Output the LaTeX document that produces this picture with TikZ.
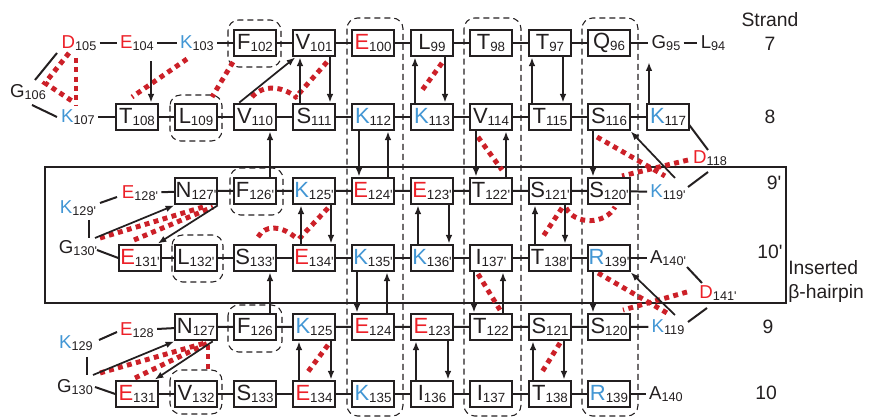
\documentclass[tikz,border=0pt]{standalone}
\usepackage{fontspec}
\setmainfont{Liberation Sans}
\usetikzlibrary{arrows.meta,calc,backgrounds}
\definecolor{tx}{RGB}{35,31,32}
\definecolor{rd}{RGB}{236,32,40}
\definecolor{bl}{RGB}{66,150,212}
\definecolor{sbc}{RGB}{204,32,40}
\newcommand\rb[3]{\textcolor{#1}{\fontsize{16.5}{16.5}\selectfont #2}\raisebox{-1.5pt}{\fontsize{10}{10}\selectfont #3}}
\newcommand\rl[3]{\textcolor{#1}{\fontsize{14}{14}\selectfont #2}\raisebox{-2pt}{\fontsize{9.5}{9.5}\selectfont #3}}
\newcommand\pr{\textquotesingle}
\newcommand\hdn[3]{\draw[hb] ($(#1.south)+(#3,0)$) -- ($(#2.north)+(#3,0)$);}
\newcommand\hup[3]{\draw[hb] ($(#1.north)+(#3,0)$) -- ($(#2.south)+(#3,0)$);}
\tikzset{
  box/.style={draw=tx, line width=1.6pt, fill=white, minimum width=31pt, minimum height=20pt, inner sep=0pt, text=tx},
  lab/.style={inner sep=0pt, outer sep=2.5pt, text=tx},
  slab/.style={inner sep=0pt, text=tx, font=\fontsize{14.5}{14.5}\selectfont},
  bb/.style={draw=tx, line width=1.5pt},
  hb/.style={draw=tx, line width=1.3pt, -{Latex[length=6.5pt,width=5pt]}},
  sb/.style={draw=sbc, line width=3.7pt, dash pattern=on 3.7pt off 3.3pt},
  dbox/.style={draw=tx, line width=0.8pt, dash pattern=on 4.5pt off 3pt, rounded corners=8pt},
}
\begin{document}
\begin{tikzpicture}[x=0.75pt,y=-0.75pt]
\useasboundingbox (0,0) rectangle (869,417);
% ---------- row 7
\node[lab] (D105) at (79,43) {\rl{rd}{D}{105}};
\node[lab] (E104) at (137,43) {\rl{rd}{E}{104}};
\node[lab] (K103) at (197,43) {\rl{bl}{K}{103}};
\node[box] (F102) at (255,43) {\rb{tx}{F}{102}};
\node[box] (V101) at (314,43) {\rb{tx}{V}{101}};
\node[box] (E100) at (373,43) {\rb{rd}{E}{100}};
\node[box] (L99) at (432,43) {\rb{tx}{L}{99}};
\node[box] (T98) at (491,43) {\rb{tx}{T}{98}};
\node[box] (T97) at (550,43) {\rb{tx}{T}{97}};
\node[box] (Q96) at (609,43) {\rb{tx}{Q}{96}};
\node[lab] (G95) at (666,43) {\rl{tx}{G}{95}};
\node[lab] (L94) at (713,43) {\rl{tx}{L}{94}};
\node[lab] (G106) at (28,92) {\rl{tx}{G}{106}};
% ---------- row 8
\node[lab] (K107) at (78,117) {\rl{bl}{K}{107}};
\node[box] (T108) at (137,117) {\rb{tx}{T}{108}};
\node[box] (L109) at (196,117) {\rb{tx}{L}{109}};
\node[box] (V110) at (255,117) {\rb{tx}{V}{110}};
\node[box] (S111) at (314,117) {\rb{tx}{S}{111}};
\node[box] (K112) at (373,117) {\rb{bl}{K}{112}};
\node[box] (K113) at (432,117) {\rb{bl}{K}{113}};
\node[box] (V114) at (491,117) {\rb{tx}{V}{114}};
\node[box] (T115) at (550,117) {\rb{tx}{T}{115}};
\node[box] (S116) at (609,117) {\rb{tx}{S}{116}};
\node[box] (K117) at (668,117) {\rb{bl}{K}{117}};
\node[lab] (D118) at (710,158) {\rl{rd}{D}{118}};
% ---------- row 9'
\node[lab] (K119p) at (668,192) {\rl{bl}{K}{119\pr}};
\node[box] (S120p) at (609,191) {\rb{tx}{S}{120\pr}};
\node[box] (S121p) at (550,191) {\rb{tx}{S}{121\pr}};
\node[box] (T122p) at (491,191) {\rb{tx}{T}{122\pr}};
\node[box] (E123p) at (432,191) {\rb{rd}{E}{123\pr}};
\node[box] (E124p) at (373,191) {\rb{rd}{E}{124\pr}};
\node[box] (K125p) at (314,191) {\rb{bl}{K}{125\pr}};
\node[box] (F126p) at (255,191) {\rb{tx}{F}{126\pr}};
\node[box] (N127p) at (196,191) {\rb{tx}{N}{127\pr}};
\node[lab] (E128p) at (140,193) {\rl{rd}{E}{128\pr}};
\node[lab] (K129p) at (78,208) {\rl{bl}{K}{129\pr}};
\node[lab] (G130p) at (78,248) {\rl{tx}{G}{130\pr}};
% ---------- row 10'
\node[box] (E131p) at (140,258) {\rb{rd}{E}{131\pr}};
\node[box] (L132p) at (196,258) {\rb{tx}{L}{132\pr}};
\node[box] (S133p) at (255,258) {\rb{tx}{S}{133\pr}};
\node[box] (E134p) at (314,258) {\rb{rd}{E}{134\pr}};
\node[box] (K135p) at (373,258) {\rb{bl}{K}{135\pr}};
\node[box] (K136p) at (432,258) {\rb{bl}{K}{136\pr}};
\node[box] (I137p) at (491,258) {\rb{tx}{I}{137\pr}};
\node[box] (T138p) at (550,258) {\rb{tx}{T}{138\pr}};
\node[box] (R139p) at (609,258) {\rb{bl}{R}{139\pr}};
\node[lab] (A140p) at (668,258) {\rl{tx}{A}{140\pr}};
\node[lab] (D141p) at (718,293) {\rl{rd}{D}{141\pr}};
% ---------- row 9
\node[lab] (K119) at (668,327) {\rl{bl}{K}{119}};
\node[box] (S120) at (609,327) {\rb{tx}{S}{120}};
\node[box] (S121) at (550,327) {\rb{tx}{S}{121}};
\node[box] (T122) at (491,327) {\rb{tx}{T}{122}};
\node[box] (E123) at (432,327) {\rb{rd}{E}{123}};
\node[box] (E124) at (373,327) {\rb{rd}{E}{124}};
\node[box] (K125) at (314,327) {\rb{bl}{K}{125}};
\node[box] (F126) at (255,327) {\rb{tx}{F}{126}};
\node[box] (N127) at (196,327) {\rb{tx}{N}{127}};
\node[lab] (E128) at (137,330) {\rl{rd}{E}{128}};
\node[lab] (K129) at (76,343) {\rl{bl}{K}{129}};
\node[lab] (G130) at (75,387) {\rl{tx}{G}{130}};
% ---------- row 10
\node[box] (E131) at (137,394) {\rb{rd}{E}{131}};
\node[box] (V132) at (196,394) {\rb{tx}{V}{132}};
\node[box] (S133) at (255,394) {\rb{tx}{S}{133}};
\node[box] (E134) at (314,394) {\rb{rd}{E}{134}};
\node[box] (K135) at (373,394) {\rb{bl}{K}{135}};
\node[box] (I136) at (432,394) {\rb{tx}{I}{136}};
\node[box] (I137) at (491,394) {\rb{tx}{I}{137}};
\node[box] (T138) at (550,394) {\rb{tx}{T}{138}};
\node[box] (R139) at (609,394) {\rb{bl}{R}{139}};
\node[lab] (A140) at (666,394) {\rl{tx}{A}{140}};
% ---------- strand labels
\node[slab] (st) at (770,20) {Strand};
\node[slab] (s7) at (770,44) {7};
\node[slab] (s8) at (770,117) {8};
\node[slab] (s9p) at (774,183) {9\pr};
\node[slab] (s10p) at (770,252) {10\pr};
\node[slab] (s9) at (768,327) {9};
\node[slab] (s10) at (766,393) {10};
\node[slab, anchor=base west] (ins) at (788,275) {Inserted};
\node[slab, anchor=base west] (hp) at (788,299) {β-hairpin};

\begin{scope}[on background layer]
% frame of the inserted hairpin
\draw[draw=tx, line width=0.8pt] (45,167) rectangle (786,303);
% dashed groups
\draw[dbox] ($(F102)+(-27,-23)$) rectangle ($(F102)+(26,24)$);
\draw[dbox] ($(L109)+(-26,-22)$) rectangle ($(L109)+(26,24)$);
\draw[dbox] ($(F126p)+(-25,-23)$) rectangle ($(F126p)+(28,24)$);
\draw[dbox] ($(L132p)+(-24,-23)$) rectangle ($(L132p)+(27,24)$);
\draw[dbox] ($(F126)+(-27,-22)$) rectangle ($(F126)+(27,25)$);
\draw[dbox] ($(V132)+(-26,-24)$) rectangle ($(V132)+(26,20)$);
\draw[dbox] (347,18) rectangle (403,416);
\draw[dbox] (464,18) rectangle (521,416);
\draw[dbox] (582,18) rectangle (638,416);
% salt bridges
\draw[sb] ($(D105)+(-3,15)$) -- ($(K107)+(-2,-12)$);
\draw[sb] ($(D105)+(-10,10)$) -- ($(G106)+(17,-9)$) -- ($(K107)+(-3,-14)$);
\draw[sb] ($(K103)+(-10,16)$) -- ($(T108)+(-5,-20)$);
\draw[sb] ($(F102)+(-22,19)$) -- ($(L109)+(16,-20)$);
\draw[sb] ($(V110)+(-3,-20)$) .. controls ($(V110)+(7,-32)$) and ($(S111)+(-32,-32)$) .. ($(S111)+(-17,-19)$);
\draw[sb] ($(V101)+(13,19)$) -- ($(S111)+(-19,-19)$);
\draw[sb] ($(L99)+(10,20)$) -- ($(K113)+(-12,-24)$);
\draw[sb] ($(V114)+(-13,20)$) -- ($(T122p)+(11,-21)$);
\draw[sb] ($(S116)+(-12,20)$) -- ($(K119p)+(-3,-16)$);
\draw[sb] ($(D118)+(-22,2)$) -- ($(S120p)+(13,-15)$);
\draw[sb] ($(S121p)+(16,17)$) .. controls ($(S121p)+(25,34)$) and ($(S120p)+(-4,34)$) .. ($(S120p)+(6,16)$);
\draw[sb] ($(S121p)+(12,17)$) -- ($(T138p)+(-8,-20)$);
\draw[sb] ($(K125p)+(14,17)$) -- ($(E134p)+(-16,-18)$);
\draw[sb] ($(S133p)+(3,-21)$) .. controls ($(S133p)+(10,-33)$) and ($(E134p)+(-34,-33)$) .. ($(E134p)+(-19,-21)$);
\draw[sb] ($(G130p)+(22,-10)$) -- ($(N127p)+(7,16)$);
\draw[sb] ($(E131p)+(-6,-18)$) -- ($(N127p)+(17,16)$);
\draw[sb] ($(G130)+(25,-14)$) -- ($(N127)+(9,16)$);
\draw[sb] ($(E131)+(-2,-16)$) -- ($(N127)+(12,16)$);
\draw[sb] ($(N127)+(12,18)$) -- ($(V132)+(12,-22)$);
\draw[sb] ($(K125)+(14,18)$) -- ($(E134)+(-7,-21)$);
\draw[sb] ($(I137p)+(-13,16)$) -- ($(T122)+(9,-17)$);
\draw[sb] ($(S121)+(10,16)$) -- ($(T138)+(-8,-22)$);
\draw[sb] ($(R139p)+(-11,15)$) -- ($(K119)+(-1,-14)$);
\draw[sb] ($(D141p)+(-31,-1)$) -- ($(S120)+(14,-17)$);
% backbone
\draw[bb] (D105)--(E104) (E104)--(K103) (K103)--(F102) (F102)--(V101) (V101)--(E100) (E100)--(L99) (L99)--(T98) (T98)--(T97) (T97)--(Q96) (Q96)--(G95) (G95)--(L94);
\draw[bb] ($(G106)+(7,-12)$) -- ($(D105)+(-22,10)$);
\draw[bb] ($(G106)+(4,13)$) -- ($(K107)+(-21,0)$);
\draw[bb] (K107)--(T108) (T108)--(L109) (L109)--(V110) (V110)--(S111) (S111)--(K112) (K112)--(K113) (K113)--(V114) (V114)--(T115) (T115)--(S116) (S116)--(K117);
\draw[bb] ($(K117)+(19,5)$) -- ($(D118)+(-2,-8)$);
\draw[bb] ($(D118)+(-2,14)$) -- ($(K119p)+(20,-5)$);
\draw[bb] (K119p)--(S120p) (S120p)--(S121p) (S121p)--(T122p) (T122p)--(E123p) (E123p)--(E124p) (E124p)--(K125p) (K125p)--(F126p) (F126p)--(N127p) (N127p)--(E128p);
\draw[bb] ($(E128p)+(-23,4)$) -- ($(K129p)+(22,-5)$);
\draw[bb] ($(K129p)+(11,12)$) -- ($(G130p)+(11,-10)$);
\draw[bb] ($(G130p)+(19,2)$) -- (E131p.west);
\draw[bb] (E131p)--(L132p) (L132p)--(S133p) (S133p)--(E134p) (E134p)--(K135p) (K135p)--(K136p) (K136p)--(I137p) (I137p)--(T138p) (T138p)--(R139p) (R139p)--(A140p);
\draw[bb] ($(A140p)+(19,9)$) -- ($(D141p)+(-16,-10)$);
\draw[bb] ($(D141p)+(-11,15)$) -- ($(K119)+(20,-5)$);
\draw[bb] (K119)--(S120) (S120)--(S121) (S121)--(T122) (T122)--(E123) (E123)--(E124) (E124)--(K125) (K125)--(F126) (F126)--(N127) (N127)--(E128);
\draw[bb] ($(E128)+(-20,2)$) -- ($(K129)+(23,-3)$);
\draw[bb] ($(K129)+(11,14)$) -- ($(G130)+(12,-12)$);
\draw[bb] ($(G130)+(20,0)$) -- (E131.west);
\draw[bb] (E131)--(V132) (V132)--(S133) (S133)--(E134) (E134)--(K135) (K135)--(I136) (I136)--(I137) (I137)--(T138) (T138)--(R139) (R139)--(A140);
\end{scope}

% hydrogen-bond arrows
\draw[hb] ($(E104.south)+(14,7)$) -- ($(T108.north)+(14,0)$);
\draw[hb] ($(V110.north west)+(6,0)$) -- ($(V101.south west)+(3,0)$);
\hup{S111}{V101}{-14}
\hdn{V101}{S111}{16}
\hup{K113}{L99}{-17}
\hdn{L99}{K113}{13}
\hup{T115}{T97}{-18}
\hdn{T97}{T115}{13}
\draw[hb] ($(K117.north)+(-19,0)$) -- ($(G95.south)+(-17,8)$);
\hup{F126p}{V110}{15}
\hdn{K112}{E124p}{-14}
\hup{E124p}{K112}{15}
\hdn{V114}{T122p}{-15}
\hup{T122p}{V114}{15}
\hdn{S116}{S120p}{-16}
\draw[hb] ($(K119p)+(7,-14)$) -- (S116.south east);
\draw[hb] ($(G130p)+(17,-10)$) -- (N127p.south west);
\draw[hb] (N127p.south east) -- ($(E131p.north east)+(-4,0)$);
\hup{E134p}{K125p}{-13}
\hdn{K125p}{E134p}{17}
\hup{K136p}{E123p}{-14}
\hdn{E123p}{K136p}{17}
\hup{T138p}{S121p}{-15}
\hdn{S121p}{T138p}{15}
\hup{F126}{S133p}{15}
\hdn{K135p}{E124}{-16}
\hup{E124}{K135p}{14}
\hdn{I137p}{T122}{-17}
\hup{T122}{I137p}{12}
\hdn{R139p}{S120}{-16}
\draw[hb] ($(K119)+(7,-12)$) -- (R139p.south east);
\draw[hb] ($(G130)+(18,-12)$) -- (N127.south west);
\draw[hb] ($(N127.south east)+(-5,0)$) -- ($(E131.north east)+(-4,0)$);
\hup{E134}{K125}{-15}
\hdn{K125}{E134}{17}
\hup{I136}{E123}{-16}
\hdn{E123}{I136}{16}
\hup{T138}{S121}{-17}
\hdn{S121}{T138}{14}
\end{tikzpicture}
\end{document}
